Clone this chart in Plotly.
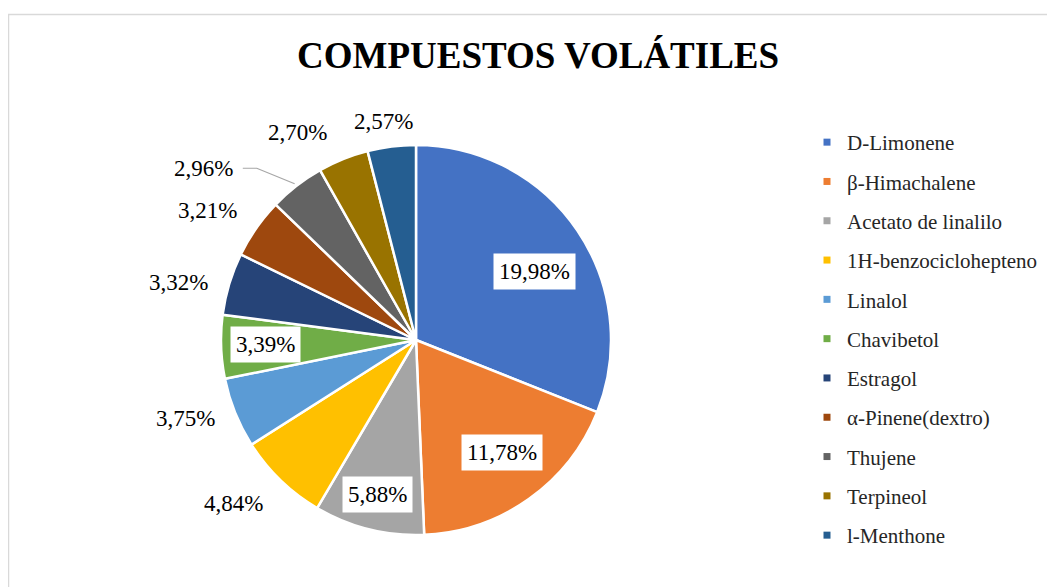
import math

import plotly.graph_objects as go

# Datos del gráfico (porcentaje del total de compuestos)
compuestos = [
    "D-Limonene", "β-Himachalene", "Acetato de linalilo", "1H-benzociclohepteno",
    "Linalol", "Chavibetol", "Estragol", "α-Pinene(dextro)", "Thujene",
    "Terpineol", "l-Menthone",
]
porcentajes = [19.98, 11.78, 5.88, 4.84, 3.75, 3.39, 3.32, 3.21, 2.96, 2.70, 2.57]
colores = [
    "#4472C4", "#ED7D31", "#A5A5A5", "#FFC000", "#5B9BD5", "#70AD47",
    "#264478", "#9E480E", "#636363", "#997300", "#255E91",
]
etiqueta_dentro = [True, True, True, False, False, True, False, False, False, False, False]

# la página deja 8 px de margen, así que la figura es algo más pequeña
OFF = 8
W, H = 1055 - OFF, 587 - OFF
CX, CY, R = 416, 340, 195  # centro y radio del pastel (px de pantalla)
FUENTE = "Liberation Serif, Times New Roman, serif"

# ajuste fino de las etiquetas (px) respecto a la posición calculada
factor_radial = [0.72, 0.72, 0.82, 1.25, 1.25, 0.77, 1.25, 1.25, 1.25, 1.25, 1.25]
ajuste = [(2, 10), (5, -2), (0, -1), (-13, -12), (-4, -13), (0, -1),
          (-4, 13), (-9, 10), (-63, 21), (-28, 19), (-2, 23)]


def px(x):
    return (x - OFF) / W


def py(y):
    return 1 - (y - OFF) / H


fig = go.Figure()

fig.add_trace(go.Pie(
    labels=compuestos,
    values=porcentajes,
    marker=dict(colors=colores, line=dict(color="white", width=2.5)),
    sort=False,
    direction="clockwise",
    rotation=0,
    textinfo="none",
    hoverinfo="label+value",
    showlegend=False,
    domain=dict(x=[px(CX - R), px(CX + R)], y=[py(CY + R), py(CY - R)]),
))

# leyenda con trazas auxiliares para controlar el espaciado
for nombre, color in zip(compuestos, colores):
    fig.add_trace(go.Scatter(
        x=[None], y=[None], mode="markers", name=nombre, legendgroup=nombre,
        marker=dict(symbol="square", size=7, color=color),
    ))

# etiquetas de datos
total = sum(porcentajes)
acumulado = 0
anotaciones = []
formas = []
for i, v in enumerate(porcentajes):
    medio = (acumulado + v / 2) / total * 2 * math.pi
    acumulado += v
    f = factor_radial[i]
    dx, dy = ajuste[i]
    x = CX + f * R * math.sin(medio) + dx
    y = CY - f * R * math.cos(medio) + dy
    texto = f"{v:.2f}%".replace(".", ",")
    anotaciones.append(dict(
        x=px(x), y=py(y), xref="paper", yref="paper", text=texto, showarrow=False,
        font=dict(family=FUENTE, size=23, color="black"),
        bgcolor="white" if etiqueta_dentro[i] else "rgba(0,0,0,0)",
        borderpad=5 if etiqueta_dentro[i] else 0,
        xanchor="center", yanchor="middle",
    ))
    if compuestos[i] == "Thujene":
        # línea guía desde la etiqueta hasta el borde del sector
        bx = CX + R * math.sin(medio)
        by = CY - R * math.cos(medio)
        x0 = x + 39
        formas.append(dict(
            type="path", xref="paper", yref="paper",
            path=f"M {px(x0)} {py(y)} L {px(x0 + 14)} {py(y)} L {px(bx - 2)} {py(by - 2)}",
            line=dict(color="#A6A6A6", width=1.2),
        ))

# marco del gráfico
formas.append(dict(
    type="rect", xref="paper", yref="paper",
    x0=px(8.5), x1=1.02, y0=-0.02, y1=py(14.5),
    line=dict(color="#D9D9D9", width=1.5),
))

anotaciones.append(dict(
    x=px(538), y=py(56), xref="paper", yref="paper", showarrow=False,
    text="<b>COMPUESTOS VOLÁTILES</b>",
    font=dict(family=FUENTE, size=37, color="black"),
    xanchor="center", yanchor="middle",
))

fig.update_layout(
    width=W, height=H,
    margin=dict(l=0, r=0, t=0, b=0),
    paper_bgcolor="white",
    plot_bgcolor="white",
    xaxis=dict(visible=False),
    yaxis=dict(visible=False),
    showlegend=True,
    legend=dict(
        x=px(807), y=py(122), xanchor="left", yanchor="top",
        font=dict(family=FUENTE, size=21, color="#262626"),
        traceorder="grouped", tracegroupgap=9, itemwidth=30,
        bgcolor="rgba(0,0,0,0)",
    ),
    annotations=anotaciones,
    shapes=formas,
)

fig.write_html("out.html")
